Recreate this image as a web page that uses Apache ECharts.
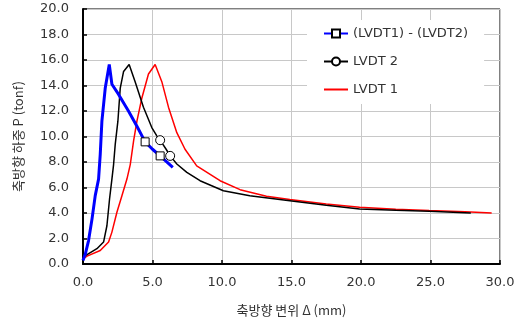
<!DOCTYPE html>
<html>
<head>
<meta charset="utf-8">
<script src="https://cdn.jsdelivr.net/npm/echarts@6/dist/echarts.min.js"></script>
<style>
  html, body { margin: 0; padding: 0; background: #fff; }
  #chart { width: 520px; height: 322px; }
</style>
</head>
<body>
<div id="chart"></div>
<script>
// (LVDT1) - (LVDT2)
var diffX = [0, 0.17, 0.4, 0.65, 0.88, 1.12, 1.24, 1.36, 1.6, 1.89, 2.08, 2.56, 3.27, 3.88, 4.47, 5.0, 5.55, 6.46];
var diffY = [0.28, 0.8, 1.84, 3.54, 5.36, 6.66, 8.6, 11.2, 13.8, 15.65, 14.1, 13.3, 12.0, 10.8, 9.58, 9.0, 8.48, 7.58];
var diffMarks = [4.47, 5.55];

// LVDT 2
var lv2X = [0, 0.29, 1.0, 1.48, 1.72, 1.91, 2.08, 2.2, 2.32, 2.51, 2.68, 2.92, 3.32, 3.75, 4.35, 4.95, 5.31, 5.55, 5.98, 6.27, 6.75, 7.47, 8.42, 10.1, 12.0, 14.88, 17.5, 19.9, 22.5, 24.9, 27.9];
var lv2Y = [0.55, 0.73, 1.2, 1.72, 3.0, 5.1, 6.66, 7.8, 9.4, 11.2, 13.8, 15.1, 15.65, 14.3, 12.3, 10.7, 10.05, 9.71, 9.0, 8.48, 7.84, 7.19, 6.53, 5.75, 5.36, 4.97, 4.6, 4.32, 4.22, 4.14, 4.0];
var lv2Marks = [5.55, 6.27];

// LVDT 1
var lv1X = [0, 0.29, 1.24, 1.84, 2.08, 2.44, 2.8, 3.16, 3.4, 3.64, 3.88, 4.23, 4.71, 5.19, 5.67, 6.15, 6.75, 7.34, 8.18, 9.86, 11.3, 13.2, 14.88, 17.5, 19.9, 22.5, 24.9, 27.5, 29.4];
var lv1Y = [0.41, 0.62, 1.06, 1.72, 2.5, 4.06, 5.36, 6.66, 7.8, 9.66, 11.2, 13.0, 14.9, 15.65, 14.3, 12.3, 10.3, 9.0, 7.7, 6.53, 5.83, 5.31, 5.05, 4.7, 4.45, 4.3, 4.19, 4.1, 4.0];

var xTicks = ['0.0', '5.0', '10.0', '15.0', '20.0', '25.0', '30.0'];

function build(xs, ys, marks) {
  return xs.map(function (x, i) {
    var item = { value: [x, ys[i]] };
    if (!marks || marks.indexOf(x) < 0) item.symbol = 'none';
    return item;
  });
}

var myChart = echarts.init(document.getElementById('chart'));
var txt = { color: '#333', fontSize: 13, fontFamily: 'DejaVu Sans' };

var option = {
  backgroundColor: '#fff',
  animation: false,
  grid: {
    left: 83, right: 20, top: 9, bottom: 57,
    show: true, borderColor: '#000', borderWidth: 1
  },
  legend: {
    orient: 'vertical',
    left: 307, top: 20,
    itemWidth: 24, itemHeight: 10, itemGap: 15,
    backgroundColor: '#fff',
    padding: [7, 16, 8, 16],
    textStyle: { color: '#333', fontSize: 13, fontFamily: 'DejaVu Sans' },
    data: [
      '(LVDT1) - (LVDT2)',
      'LVDT 2',
      { name: 'LVDT 1', itemStyle: { opacity: 0 } }
    ]
  },
  xAxis: {
    type: 'value', min: 0, max: 30, interval: 5,
    name: '축방향 변위 Δ (mm)', nameLocation: 'middle', nameGap: 40,
    nameTextStyle: { color: '#333', fontSize: 13, fontFamily: 'Noto Sans CJK KR' },
    axisLine: { lineStyle: { color: '#000', width: 2 } },
    axisTick: { inside: true, length: 4, lineStyle: { color: '#000', width: 1.5 } },
    axisLabel: Object.assign({ margin: 12, formatter: function (v) { return xTicks[v / 5]; } }, txt),
    splitLine: { lineStyle: { color: '#c8c8c8', width: 1 } }
  },
  yAxis: {
    type: 'value', min: 0, max: 20, interval: 2,
    name: '축방향 하중 P (tonf)', nameLocation: 'middle', nameGap: 58,
    nameTextStyle: { color: '#333', fontSize: 13, fontFamily: 'Noto Sans CJK KR' },
    axisLine: { lineStyle: { color: '#000', width: 2 } },
    axisTick: { inside: true, length: 4, lineStyle: { color: '#000', width: 1.5 } },
    axisLabel: Object.assign({ margin: 14, formatter: function (v) { return v.toFixed(1); } }, txt),
    splitLine: { lineStyle: { color: '#c8c8c8', width: 1 } }
  },
  series: [
    {
      name: '(LVDT1) - (LVDT2)', type: 'line', z: 4,
      symbol: 'rect', symbolSize: 8,
      itemStyle: { color: '#fff', borderColor: '#000', borderWidth: 1 },
      lineStyle: { color: '#0000ff', width: 3 },
      data: build(diffX, diffY, diffMarks)
    },
    {
      name: 'LVDT 2', type: 'line', z: 3,
      symbol: 'circle', symbolSize: 9,
      itemStyle: { color: '#fff', borderColor: '#000', borderWidth: 1 },
      lineStyle: { color: '#000', width: 1.5 },
      data: build(lv2X, lv2Y, lv2Marks)
    },
    {
      name: 'LVDT 1', type: 'line', z: 2,
      symbol: 'none',
      itemStyle: { color: '#ff0000' },
      lineStyle: { color: '#ff0000', width: 1.5 },
      data: build(lv1X, lv1Y, null)
    }
  ]
};

myChart.setOption(option);
</script>
</body>
</html>
